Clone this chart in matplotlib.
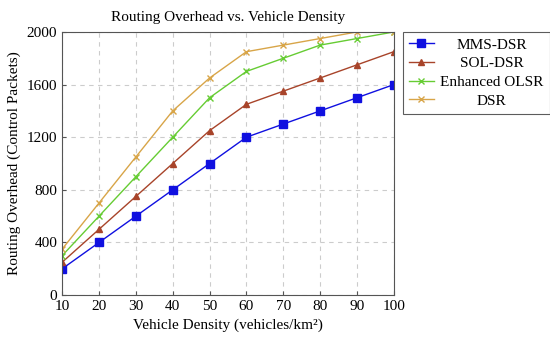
import matplotlib
matplotlib.use("Agg")
import matplotlib.pyplot as plt

density = [10, 20, 30, 40, 50, 60, 70, 80, 90, 100]
mms_dsr = [200, 400, 600, 800, 1000, 1200, 1300, 1400, 1500, 1600]
sol_dsr = [250, 500, 750, 1000, 1250, 1450, 1550, 1650, 1750, 1850]
enh_olsr = [300, 600, 900, 1200, 1500, 1700, 1800, 1900, 1950, 2000]
dsr = [350, 700, 1050, 1400, 1650, 1850, 1900, 1950, 2000, 2000]

y_ticks = [0, 400, 800, 1200, 1600, 2000]

plt.rcParams['font.family'] = ['Liberation Serif', 'DejaVu Serif']

fig = plt.figure(figsize=(5.5, 3.4), dpi=100)
ax = fig.add_axes([0.113, 0.132, 0.603, 0.774])

ax.plot(density, mms_dsr, color='#1010e0', marker='s', markersize=5.5, lw=1, label='MMS-DSR')
ax.plot(density, sol_dsr, color='#a8442a', marker='^', markersize=4.5, lw=1, label='SOL-DSR')
ax.plot(density, enh_olsr, color='#66cc33', marker='x', markersize=4, mew=1, lw=1, label='Enhanced OLSR')
ax.plot(density, dsr, color='#d8a548', marker='x', markersize=4, mew=1, lw=1, label='DSR')

ax.set_xlim(10, 100)
ax.set_ylim(0, 2000)
ax.set_xticks(density)
ax.set_yticks(y_ticks)
ax.tick_params(direction='in', length=3, labelsize=11, color='#555555')
ax.grid(True, linestyle=(0, (4, 4)), color='#cccccc', lw=0.8)
for s in ax.spines.values():
    s.set_color('#555555')

ax.set_xlabel('Vehicle Density (vehicles/km²)', fontsize=11)
ax.set_ylabel('Routing Overhead (Control Packets)', fontsize=11)
ax.set_title('Routing Overhead vs. Vehicle Density', fontsize=11, pad=8)

leg = ax.legend(loc='upper left', bbox_to_anchor=(1.027, 1.0), fontsize=11,
                fancybox=False, edgecolor='#333333', borderaxespad=0,
                handlelength=1.65, labelspacing=0.32, borderpad=0.4, handletextpad=0.4)
leg.get_frame().set_linewidth(0.8)

# center the legend labels like pgfplots does
fig.canvas.draw()
renderer = fig.canvas.get_renderer()
texts = leg.get_texts()
widths = [t.get_window_extent(renderer).width for t in texts]
widest = max(widths)
for t, w in zip(texts, widths):
    t.set_position(((widest - w) / 2, 0))

fig.savefig('out.png', dpi=100)
